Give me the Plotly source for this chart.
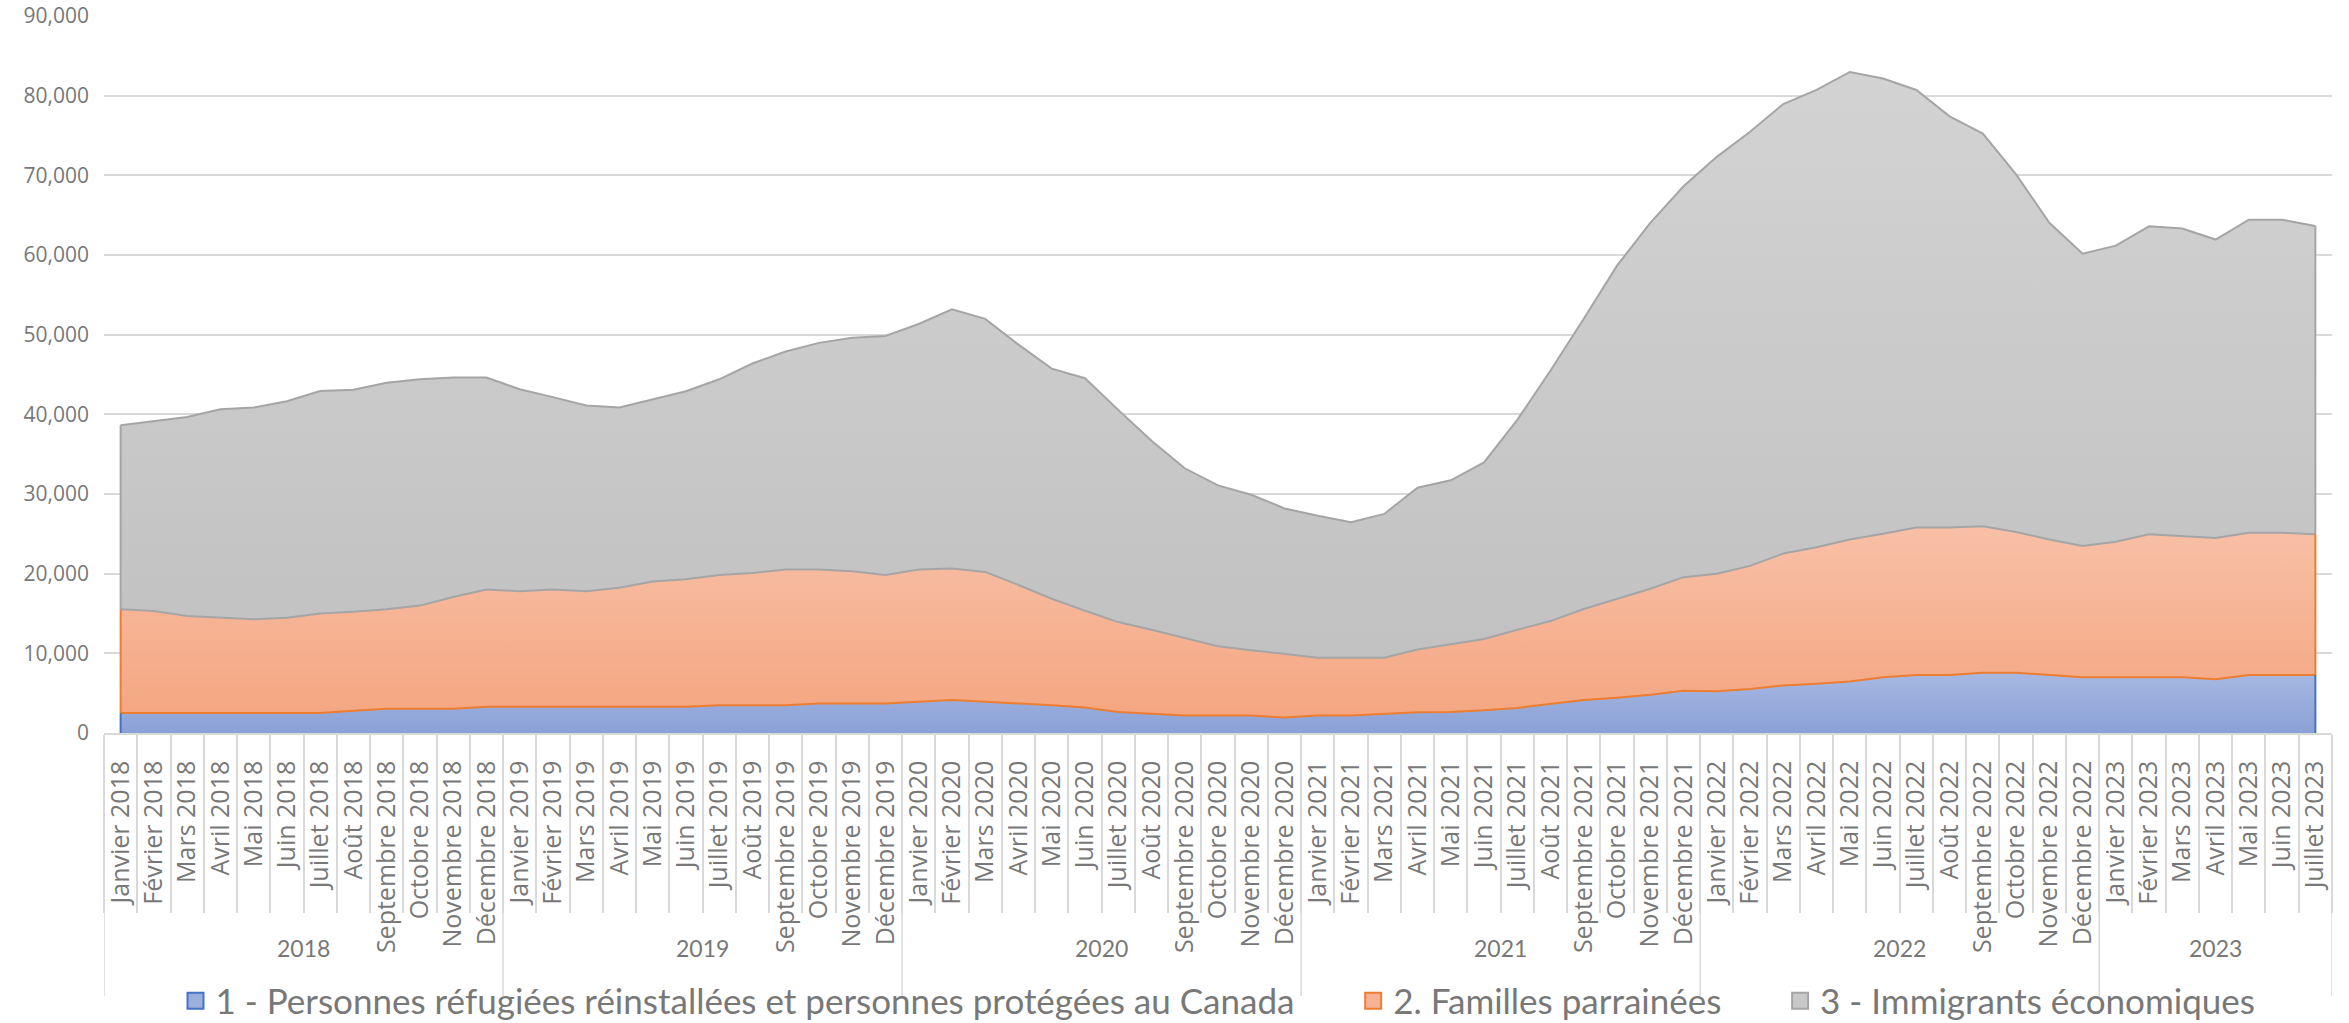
import plotly.graph_objects as go
import numpy as np

# ---------------- data ----------------
years = [2018, 2019, 2020, 2021, 2022, 2023]
months_per_year = [12, 12, 12, 12, 12, 7]
mois = ["Janvier", "Février", "Mars", "Avril", "Mai", "Juin", "Juillet",
        "Août", "Septembre", "Octobre", "Novembre", "Décembre"]
categories = [f"{m} {y}" for y, n in zip(years, months_per_year) for m in mois[:n]]

series_names = [
    "1 - Personnes réfugiées réinstallées et personnes protégées au Canada",
    "2. Familles parrainées",
    "3 - Immigrants économiques",
]

refugies = [2500, 2500, 2500, 2500, 2500, 2500, 2500, 2800, 3050, 3050, 3050, 3280,
            3280, 3280, 3280, 3280, 3280, 3280, 3490, 3490, 3490, 3710, 3710, 3710,
            3920, 4140, 3920, 3710, 3490, 3190, 2630, 2410, 2200, 2200, 2200, 1940,
            2200, 2200, 2370, 2590, 2630, 2840, 3150, 3660, 4140, 4440, 4800, 5300,
            5250, 5520, 5960, 6180, 6460, 7010, 7290, 7290, 7570, 7570, 7290, 7010,
            7010, 7010, 7010, 6740, 7290, 7290, 7290]

familles = [13020, 12800, 12200, 11980, 11770, 11980, 12500, 12420, 12470, 12940, 14020, 14740,
            14520, 14740, 14520, 14950, 15730, 16030, 16340, 16600, 17030, 16810, 16590, 16120,
            16600, 16510, 16300, 14870, 13360, 12150, 11290, 10560, 9700, 8700, 8190, 8020,
            7240, 7240, 7070, 7880, 8530, 8970, 9820, 10390, 11420, 12410, 13300, 14260,
            14740, 15460, 16570, 17130, 17840, 18010, 18500, 18500, 18390, 17670, 17010, 16460,
            17010, 17950, 17730, 17730, 17840, 17840, 17670]

economiques = [23100, 23840, 24960, 26170, 26590, 27160, 27930, 27880, 28450, 28410, 27540, 26590,
               25350, 24140, 23320, 22630, 22840, 23580, 24570, 26290, 27370, 28450, 29310, 30000,
               30820, 32540, 31760, 30170, 28880, 29190, 26640, 23710, 21330, 20180, 19520, 18230,
               17840, 17030, 18060, 20310, 20560, 22160, 26330, 31450, 36440, 41810, 45940, 49060,
               52330, 54490, 56420, 57410, 58680, 57130, 54930, 51610, 49290, 44880, 39740, 36700,
               37150, 38640, 38580, 37470, 39300, 39300, 38690]

# ---------------- styles ----------------
W, H = 2349, 1023
M_L, M_R, M_T, M_B = 104, 17, 16, 290
PLOT_H = H - M_T - M_B
AXIS_Y = H - M_B
TXT = "#787878"
GRID = "#D9D9D9"

fill_styles = [
    dict(bottom="#8AA1D6", top="#A7B8E2", border="#4472C4", legend="#9BAFDD"),
    dict(bottom="#F4A47E", top="#F8C0A7", border="#ED7D31", legend="#F6B394"),
    dict(bottom="#BFBFBF", top="#D3D3D3", border="#A5A5A5", legend="#C9C9C9"),
]

cum1 = np.array(refugies, dtype=float)
cum2 = cum1 + np.array(familles)
cum3 = cum2 + np.array(economiques)
cums = [cum1, cum2, cum3]

fig = go.Figure()

# filled areas
for k, (c, st) in enumerate(zip(cums, fill_styles)):
    fig.add_trace(go.Scatter(
        x=categories, y=c, mode="lines",
        line=dict(width=0, color=st["border"]),
        fill="tozeroy" if k == 0 else "tonexty",
        fillgradient=dict(type="vertical",
                          colorscale=[[0, st["bottom"]], [1, st["top"]]],
                          start=0, stop=float(c.max())),
        showlegend=False, hoverinfo="skip",
    ))

# boundary lines (upper series outline covers the top of the lower one)
line_colors = [fill_styles[1]["border"], fill_styles[2]["border"], fill_styles[2]["border"]]
for c, col in zip(cums, line_colors):
    fig.add_trace(go.Scatter(x=categories, y=c, mode="lines",
                             line=dict(color=col, width=2),
                             showlegend=False, hoverinfo="skip"))

# vertical edges of the areas at both ends
for idx in (0, len(categories) - 1):
    lows = [0.0, cum1[idx], cum2[idx]]
    highs = [cum1[idx], cum2[idx], cum3[idx]]
    for lo, hi, st in zip(lows, highs, fill_styles):
        fig.add_trace(go.Scatter(x=[categories[idx], categories[idx]], y=[lo, hi],
                                 mode="lines", line=dict(color=st["border"], width=2),
                                 showlegend=False, hoverinfo="skip"))

# legend entries (non-breaking spaces widen the gap between entries)
for k, (name, st) in enumerate(zip(series_names, fill_styles)):
    pad = "\u00a0" * 6 if k < len(series_names) - 1 else ""
    fig.add_trace(go.Scatter(x=[None], y=[None], mode="markers", name=name + pad,
                             marker=dict(symbol="square", size=16, color=st["legend"],
                                         line=dict(color=st["border"], width=2))))

# year dividers and labels
bounds = [-0.5]
for n in months_per_year:
    bounds.append(bounds[-1] + n)
y_div_bottom = -(996 - AXIS_Y) / PLOT_H
y_year = -(948 - AXIS_Y) / PLOT_H
for b in bounds:
    fig.add_shape(type="line", xref="x", yref="paper", x0=b, x1=b, y0=0, y1=y_div_bottom,
                  line=dict(color=GRID, width=1.5))
for yr, a, b in zip(years, bounds[:-1], bounds[1:]):
    fig.add_annotation(x=(a + b) / 2, y=y_year, xref="x", yref="paper", text=str(yr),
                       showarrow=False, font=dict(family="Lato", size=23, color=TXT),
                       xanchor="center", yanchor="middle")

fig.update_layout(
    width=W, height=H,
    margin=dict(l=M_L, r=M_R, t=M_T, b=M_B, pad=0, autoexpand=False),
    paper_bgcolor="white", plot_bgcolor="white",
    showlegend=True,
    legend=dict(orientation="h", traceorder="normal",
                x=0.5, xanchor="center", xref="paper",
                yref="container", y=1 - 1001 / H, yanchor="middle",
                font=dict(family="Lato", size=35, color=TXT),
                bgcolor="rgba(0,0,0,0)"),
    xaxis=dict(type="category", categoryorder="array", categoryarray=categories,
               range=[-0.5, len(categories) - 0.5], automargin=False,
               tickangle=-90, tickfont=dict(family="Open Sans", size=25, color=TXT),
               ticks="outside", tickson="boundaries", ticklen=178, tickcolor=GRID,
               tickwidth=1.5, ticklabelstandoff=16,
               showline=True, linecolor=GRID, linewidth=1.5, showgrid=False,
               zeroline=False, fixedrange=True),
    yaxis=dict(range=[0, 90000], dtick=10000, tick0=0, tickformat=",", automargin=False,
               tickfont=dict(family="Open Sans", size=21, color=TXT),
               showgrid=True, gridcolor=GRID, gridwidth=1.5, zeroline=False,
               showline=False, ticks="", ticklabelstandoff=14, fixedrange=True),
    hovermode=False,
)

fig.write_html("out.html", config={"displayModeBar": False},
               post_script="document.body.style.margin='0';")
